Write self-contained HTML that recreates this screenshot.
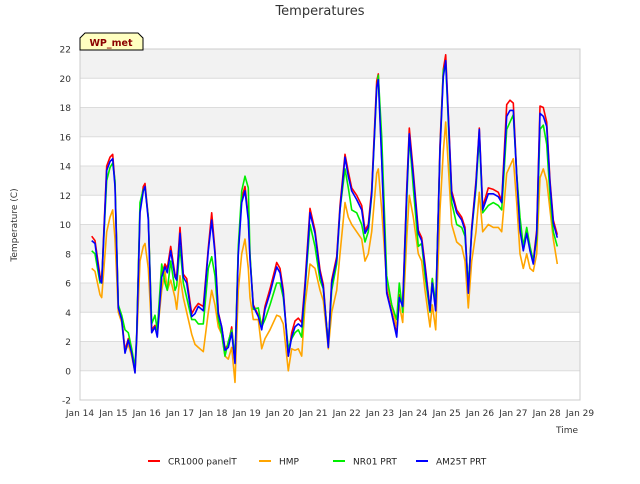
<!DOCTYPE html>
<html><head><meta charset="utf-8"><style>
body{margin:0;background:#fff;font-family:"DejaVu Sans",sans-serif}
svg text{font-family:"DejaVu Sans",sans-serif}
</style></head><body>
<svg id="chart" width="640" height="480" xmlns="http://www.w3.org/2000/svg">
<rect x="0" y="0" width="640" height="480" fill="#fff"/>
<g id="bands"></g><g id="grid"></g>
<rect x="80" y="49" width="500" height="351" fill="none" stroke="#ccc" stroke-width="1"/>
<g id="series"></g><g id="axes"></g>
<text x="320" y="15" text-anchor="middle" font-size="13" fill="#333">Temperatures</text>
<text x="17" y="225" text-anchor="middle" font-size="9" fill="#333" transform="rotate(-90 17 225)">Temperature (C)</text>
<text x="578" y="433" text-anchor="end" font-size="9" fill="#333">Time</text>
<g>
<path d="M80,50 L80,38 L85,33 L138,33 L143,38 L143,50 Z" fill="#ffffc0" stroke="#000" stroke-width="1"/>
<text x="111" y="46" text-anchor="middle" font-size="9.5" font-weight="bold" fill="#8b0000">WP_met</text>
</g>
<g id="legend"></g>
</svg>
<script>
const times=[0.35,0.45,0.60,0.65,0.80,0.90,0.98,1.05,1.15,1.25,1.35,1.45,1.55,1.65,1.70,1.80,1.90,1.95,2.05,2.15,2.25,2.32,2.45,2.55,2.62,2.72,2.85,2.90,3.00,3.10,3.20,3.35,3.45,3.55,3.70,3.85,3.95,4.05,4.15,4.25,4.35,4.45,4.55,4.65,4.75,4.85,4.95,5.05,5.10,5.20,5.35,5.45,5.55,5.70,5.90,6.00,6.10,6.25,6.35,6.45,6.55,6.65,6.75,6.90,7.05,7.20,7.30,7.45,7.55,7.70,7.80,7.95,8.05,8.15,8.30,8.45,8.55,8.65,8.75,8.90,8.95,9.05,9.20,9.35,9.50,9.58,9.68,9.80,9.88,10.00,10.15,10.25,10.35,10.50,10.57,10.67,10.80,10.90,10.97,11.05,11.15,11.30,11.45,11.55,11.65,11.75,11.88,11.98,12.08,12.25,12.40,12.55,12.65,12.80,12.90,13.00,13.10,13.20,13.30,13.40,13.50,13.60,13.70,13.80,13.90,14.00,14.10,14.20,14.32];
const blueVals=[8.9,8.7,6.2,6.0,13.7,14.3,14.5,12.6,4.3,3.5,1.2,2.1,1.2,-0.15,2.3,10.8,12.3,12.6,10.3,2.6,3.0,2.3,6.4,7.1,6.7,8.2,6.4,6.2,9.4,6.4,6.0,3.7,3.9,4.4,4.1,8.2,10.3,8.0,3.9,3.0,1.4,1.6,2.6,0.5,8.0,11.5,12.3,10.3,7.6,4.4,3.7,2.8,4.2,5.3,7.1,6.7,5.3,1.0,2.3,3.0,3.2,3.0,5.7,10.8,9.4,6.7,5.7,1.6,6.0,7.6,11.0,14.6,13.3,12.3,11.7,11.0,9.4,9.8,12.1,19.4,19.9,14.4,5.3,3.9,2.3,5.0,4.4,12.1,16.2,13.3,9.4,8.9,7.1,4.1,6.0,4.1,15.1,20.1,21.2,17.4,12.1,10.8,10.3,9.6,5.3,9.6,12.8,16.5,11.0,12.1,12.1,11.9,11.5,17.4,17.8,17.8,13.3,9.6,8.2,9.4,8.2,7.3,9.4,17.6,17.4,16.7,12.8,10.1,9.1];
const redVals=[9.2,8.9,6.5,6.2,14.0,14.6,14.8,12.8,4.4,3.6,1.4,2.2,1.3,0,2.4,11.0,12.6,12.8,10.5,2.8,3.1,2.5,6.6,7.3,7.0,8.5,6.6,6.4,9.8,6.6,6.3,3.9,4.3,4.6,4.4,8.4,10.8,8.2,4.0,3.0,1.5,1.8,3.0,0.6,8.2,11.8,12.6,10.5,7.8,4.5,3.8,3.0,4.4,5.6,7.4,7.0,5.5,1.0,2.6,3.4,3.6,3.3,6.0,11.1,9.6,6.9,5.9,1.7,6.2,7.8,11.3,14.8,13.6,12.5,12.0,11.3,9.6,10.0,12.4,19.8,20.3,14.6,5.5,4.0,2.5,5.2,4.6,12.4,16.6,13.6,9.6,9.1,7.3,4.2,6.3,4.1,15.5,20.6,21.6,17.6,12.3,11.0,10.5,9.8,5.4,9.8,13.0,16.6,11.2,12.5,12.4,12.2,11.6,18.2,18.5,18.3,13.5,9.8,8.4,9.6,8.4,7.5,9.6,18.1,18.0,17.0,13.0,10.3,9.3];
const greenVals=[8.2,8.0,6.0,6.2,13.0,13.9,14.2,13.0,4.5,3.8,2.8,2.6,1.5,0.2,2.5,11.5,12.4,12.5,10.5,3.2,3.8,2.8,7.3,6.0,5.5,7.5,5.5,5.8,8.5,6.0,5.0,3.5,3.5,3.2,3.2,7.0,7.8,6.5,3.5,2.5,1.0,2.0,2.8,0.8,8.5,12.3,13.3,12.5,8.0,4.2,4.3,3.0,3.5,4.5,6.0,6.0,5.0,1.5,2.2,2.6,2.8,2.3,5.5,10.0,8.5,6.2,5.6,1.8,5.5,7.3,11.0,13.8,12.5,11.0,10.8,10.0,8.8,9.5,12.0,19.2,20.2,16.0,6.5,4.5,3.5,6.0,4.0,11.5,16.0,12.5,8.5,8.7,6.5,4.0,6.3,4.5,15.0,20.5,21.0,17.0,11.5,10.0,9.8,9.2,5.8,9.5,12.5,16.0,10.8,11.3,11.5,11.3,11.0,16.5,17.0,17.5,13.5,10.5,8.5,9.8,8.5,7.5,9.0,16.5,16.8,15.5,12.0,9.5,8.5];
const orangeVals=[7.0,6.8,5.2,5.0,9.5,10.5,11.0,9.0,4.0,3.3,1.3,1.8,1.0,-0.1,2.0,7.5,8.5,8.7,7.0,2.6,3.0,2.5,5.5,6.8,5.5,6.2,5.0,4.2,6.5,5.0,4.0,2.5,1.8,1.6,1.3,4.0,5.5,4.5,3.0,2.5,1.0,0.8,1.6,-0.8,5.5,8.0,9.0,7.0,5.0,3.5,3.5,1.5,2.2,2.8,3.8,3.7,3.2,0,1.5,1.4,1.5,1.0,4.5,7.3,7.0,5.5,4.8,1.5,4.0,5.5,8.0,11.5,10.5,10.0,9.5,9.0,7.5,8.0,9.5,13.5,13.8,11.0,6.0,4.5,3.0,4.5,3.3,9.0,12.0,10.5,8.0,7.5,5.5,3.0,4.5,2.8,11.0,15.0,17.0,14.0,10.0,8.8,8.5,7.5,4.3,7.5,9.5,12.2,9.5,10.0,9.8,9.8,9.5,13.5,14.0,14.5,11.5,8.0,7.0,8.0,7.0,6.8,8.0,13.2,13.8,13.0,11.0,9.0,7.3];
const yTicks=[-2,0,2,4,6,8,10,12,14,16,18,20,22];
const xTickLabels=["Jan 14","Jan 15","Jan 16","Jan 17","Jan 18","Jan 19","Jan 20","Jan 21","Jan 22","Jan 23","Jan 24","Jan 25","Jan 26","Jan 27","Jan 28","Jan 29"];
const seriesNames=["CR1000 panelT","HMP","NR01 PRT","AM25T PRT"];
const seriesColors=["#ff0000","#ffa500","#00ee00","#0000ff"];
const NS="http://www.w3.org/2000/svg";
const X0=80,X1=580,Y0=400,Y1=49,VMIN=-2,VMAX=22,DAYS=15;
function xs(t){return X0+(t/DAYS)*(X1-X0);}
function ys(v){return Y0-(v-VMIN)/(VMAX-VMIN)*(Y0-Y1);}
function mk(tag,attrs,parent){const e=document.createElementNS(NS,tag);for(const k in attrs)e.setAttribute(k,attrs[k]);parent.appendChild(e);return e;}
const bands=document.getElementById('bands'),grid=document.getElementById('grid'),axes=document.getElementById('axes');
for(let v=0;v<22;v+=4){const r=mk('rect',{x:X0,y:ys(v+2),width:X1-X0,height:ys(v)-ys(v+2),fill:'#f2f2f2'},bands);

}
yTicks.forEach(v=>{const l=mk('line',{x1:X0,x2:X1,y1:ys(v),y2:ys(v),stroke:'#dcdcdc','stroke-width':1},grid);


const t=mk('text',{x:71,y:ys(v)+3.5,'text-anchor':'end','font-size':9,fill:'#333'},axes);t.textContent=v;

});
xTickLabels.forEach((s,i)=>{const t=mk('text',{x:xs(i),y:416,'text-anchor':'middle','font-size':9,fill:'#333'},axes);t.textContent=s;

});
const all=[redVals,orangeVals,greenVals,blueVals];
const ser=document.getElementById('series');
all.forEach((vals,si)=>{const pts=times.map((t,i)=>xs(t).toFixed(1)+','+ys(vals[i]).toFixed(1)).join(' ');
const p=mk('polyline',{points:pts,fill:'none',stroke:seriesColors[si],'stroke-width':1.6,'stroke-linejoin':'round'},ser);

});
const leg=document.getElementById('legend');
const lx=[148,259,333,416];
seriesNames.forEach((n,i)=>{const g=mk('g',{},leg);


mk('line',{x1:lx[i],x2:lx[i]+12,y1:461,y2:461,stroke:seriesColors[i],'stroke-width':2},g);
const t=mk('text',{x:lx[i]+20,y:464.5,'font-size':9,fill:'#222'},g);t.textContent=n;});
</script>
</body></html>
